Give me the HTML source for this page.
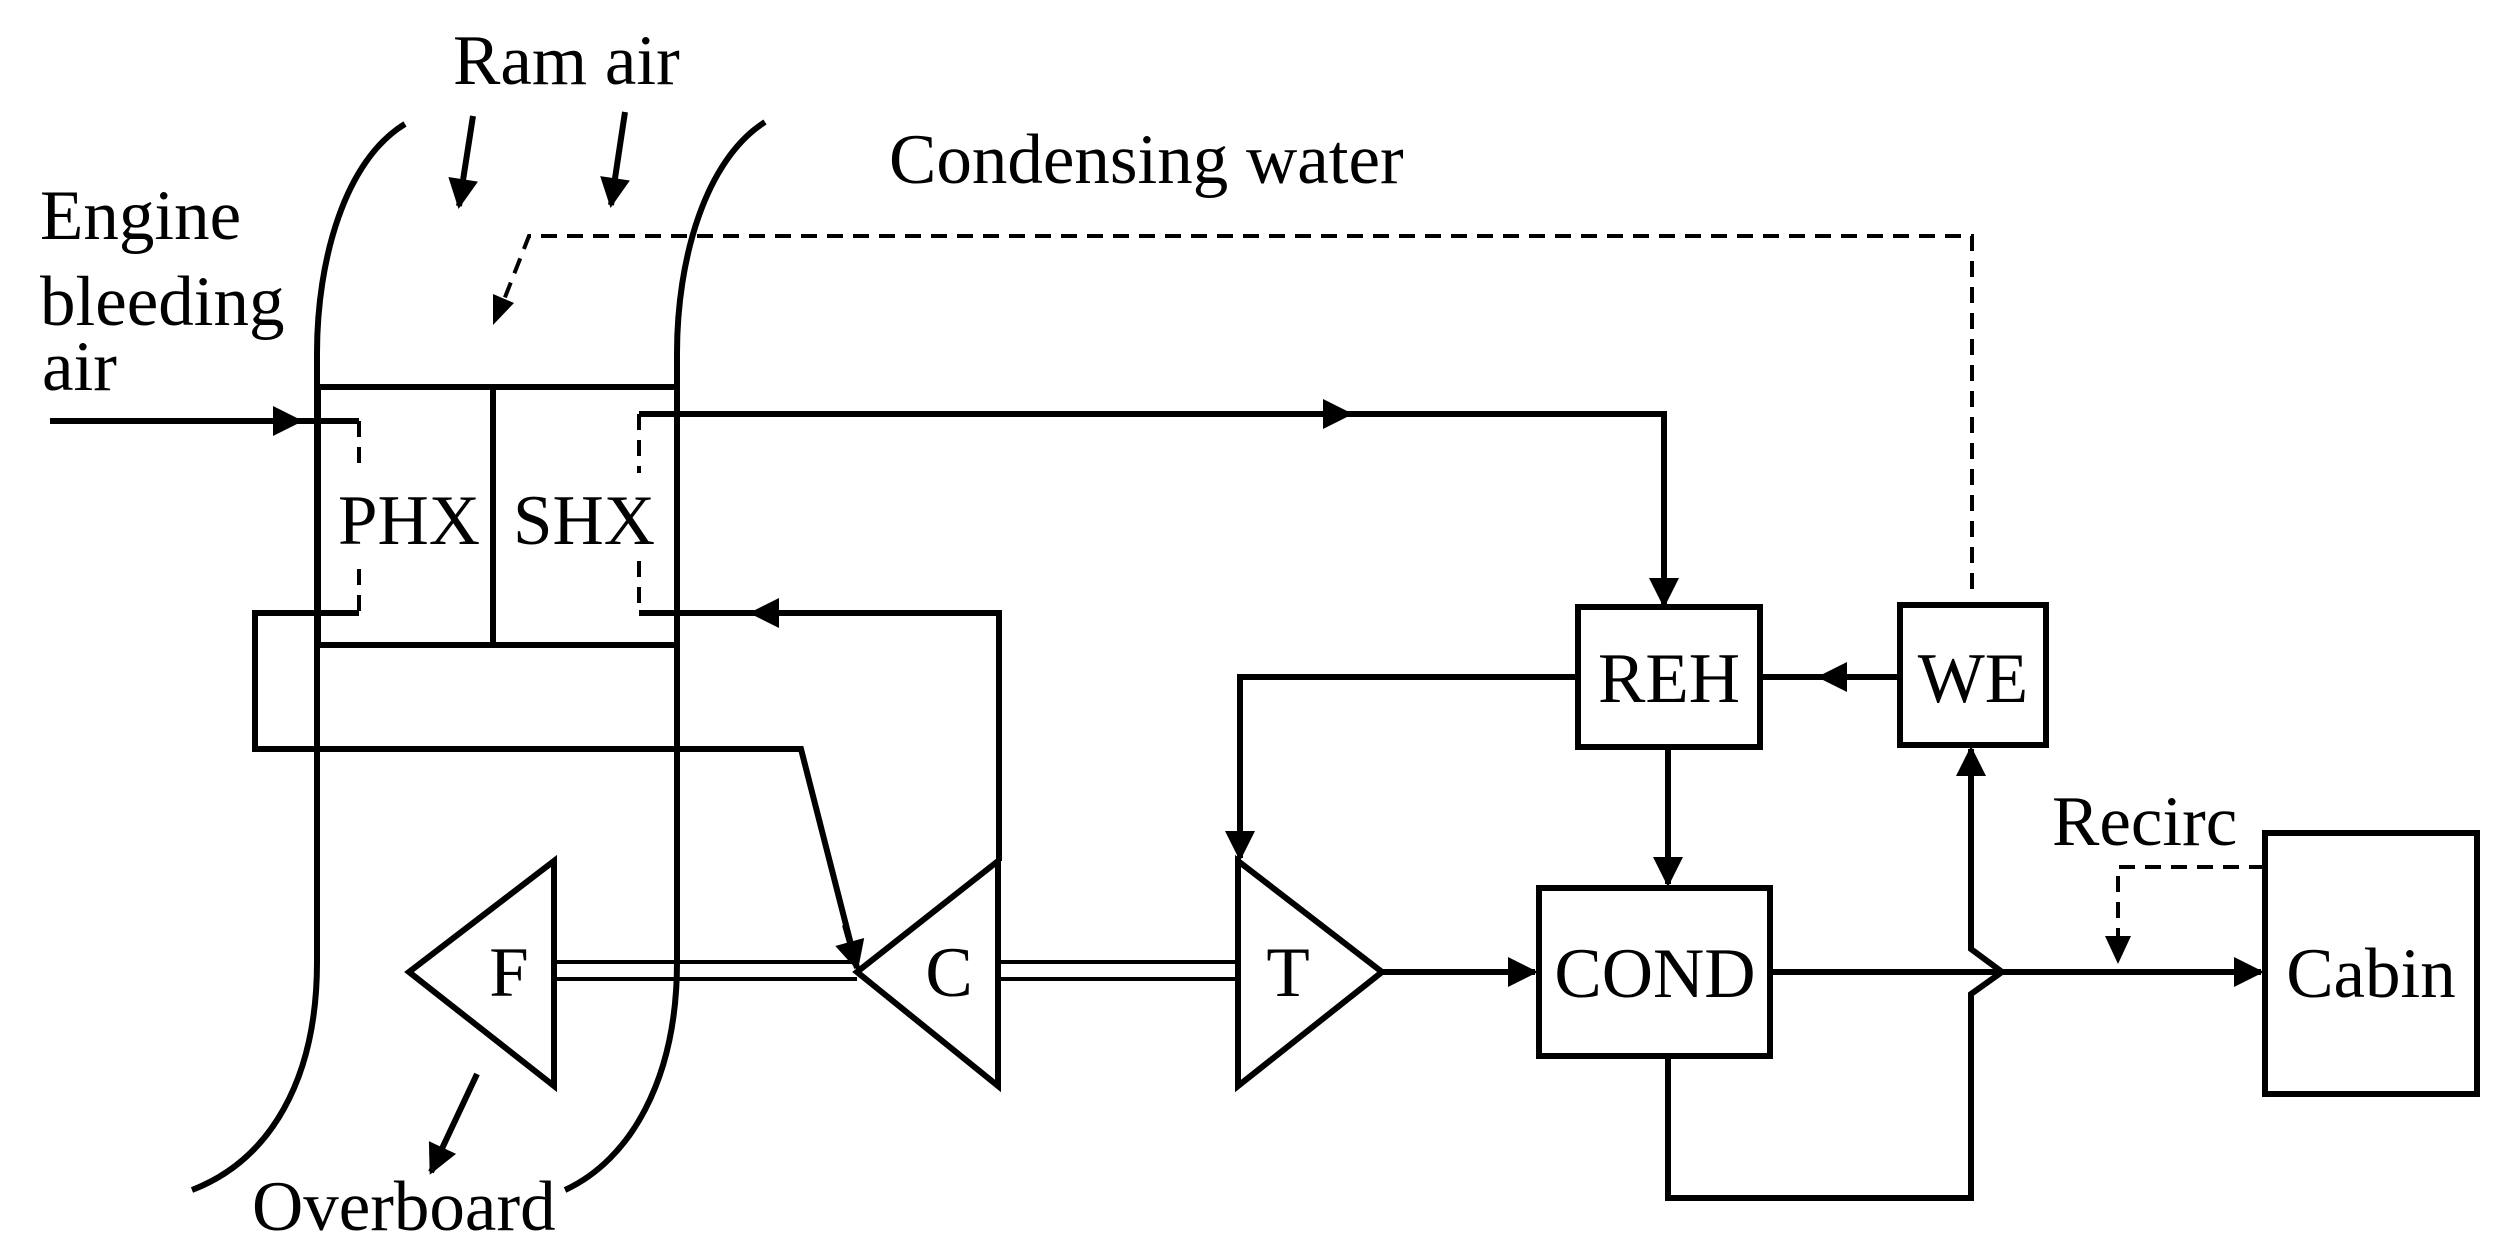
<!DOCTYPE html>
<html><head><meta charset="utf-8"><style>
html,body{margin:0;padding:0;background:#fff}
svg{display:block}
text{font-family:"Liberation Serif",serif;font-size:71px;fill:#000}
</style></head><body>
<svg width="2511" height="1244" viewBox="0 0 2511 1244" xmlns="http://www.w3.org/2000/svg">
<defs>
<marker id="a" viewBox="0 0 10 10" refX="9" refY="5" markerWidth="5.5" markerHeight="5" orient="auto" markerUnits="strokeWidth"><path d="M0,0 L10,5 L0,10 z" fill="#000"/></marker>
</defs>
<g fill="none" stroke="#000" stroke-width="6">
<path d="M405,124 C345,160 317,260 317,353 L317,962 C317,1080 270,1160 192,1190"/>
<path d="M765,122 C705,160 677,260 677,353 L677,962 C677,1080 630,1160 565,1190"/>
<rect x="318" y="387" width="359" height="258"/>
<line x1="493" y1="387" x2="493" y2="645"/>
<line x1="473" y1="116" x2="459" y2="206" marker-end="url(#a)"/>
<line x1="625" y1="112" x2="611" y2="205" marker-end="url(#a)"/>
<line x1="477" y1="1074" x2="431" y2="1172" marker-end="url(#a)"/>
<line x1="50" y1="421" x2="300" y2="421" marker-end="url(#a)"/>
<polyline points="296,421 359,421"/>
<polyline points="359,613 255,613 255,749 801,749 857,968"/>
<line x1="845" y1="925" x2="857" y2="968" marker-end="url(#a)"/>
<polyline points="639,414 1664,414 1664,600"/>
<line x1="1300" y1="414" x2="1350" y2="414" marker-end="url(#a)"/>
<line x1="1664" y1="560" x2="1664" y2="605" marker-end="url(#a)"/>
<polyline points="639,613 999,613 999,861"/>
<line x1="800" y1="613" x2="752" y2="613" marker-end="url(#a)"/>
<polygon points="409,972 554,861 554,1086"/>
<polygon points="857,972 998,861 998,1086"/>
<polygon points="1238,861 1382,972 1238,1086"/>
<line x1="554" y1="962" x2="857" y2="962" stroke-width="4"/>
<line x1="554" y1="979" x2="857" y2="979" stroke-width="4"/>
<line x1="998" y1="962" x2="1238" y2="962" stroke-width="4"/>
<line x1="998" y1="979" x2="1238" y2="979" stroke-width="4"/>
<rect x="1578" y="607" width="182" height="140"/>
<rect x="1900" y="605" width="146" height="140"/>
<rect x="1539" y="888" width="231" height="168"/>
<rect x="2265" y="833" width="212" height="261"/>
<polyline points="1578,677 1240,677 1240,820"/>
<line x1="1240" y1="800" x2="1240" y2="858" marker-end="url(#a)"/>
<line x1="1900" y1="677" x2="1760" y2="677"/>
<line x1="1860" y1="677" x2="1820" y2="677" marker-end="url(#a)"/>
<line x1="1668" y1="747" x2="1668" y2="884" marker-end="url(#a)"/>
<line x1="1382" y1="972" x2="1535" y2="972" marker-end="url(#a)"/>
<line x1="1770" y1="972" x2="2261" y2="972" marker-end="url(#a)"/>
<polyline points="1668,1056 1668,1198 1971,1198 1971,994 2002,972 1971,949 1971,760"/>
<line x1="1971" y1="800" x2="1971" y2="749" marker-end="url(#a)"/>
</g>
<g fill="none" stroke="#000" stroke-width="4" stroke-dasharray="16,10">
<polyline points="1972,589 1972,236 529,236 500,310"/>
<polyline points="359,421 359,469"/>
<polyline points="359,569 359,613"/>
<polyline points="639,414 639,473"/>
<polyline points="639,561 639,613"/>
<polyline points="2265,867 2118,867 2118,940"/>
</g>
<g fill="#000">
<path d="M493,325 L493,294 L514,303 z"/>
<path d="M2118,964 L2105,936 L2131,936 z"/>
</g>
<text x="453" y="84">Ram air</text>
<text x="889" y="183">Condensing water</text>
<text x="40" y="239">Engine</text>
<text x="40" y="325">bleeding</text>
<text x="42" y="390">air</text>
<text x="409" y="544" text-anchor="middle">PHX</text>
<text x="584" y="544" text-anchor="middle">SHX</text>
<text x="509" y="996" text-anchor="middle">F</text>
<text x="949" y="996" text-anchor="middle">C</text>
<text x="1288" y="996" text-anchor="middle">T</text>
<text x="1669" y="702" text-anchor="middle">REH</text>
<text x="1973" y="702" text-anchor="middle">WE</text>
<text x="1655" y="997" text-anchor="middle">COND</text>
<text x="2371" y="997" text-anchor="middle">Cabin</text>
<text x="2052" y="845">Recirc</text>
<text x="252" y="1230">Overboard</text>
</svg>
</body></html>
